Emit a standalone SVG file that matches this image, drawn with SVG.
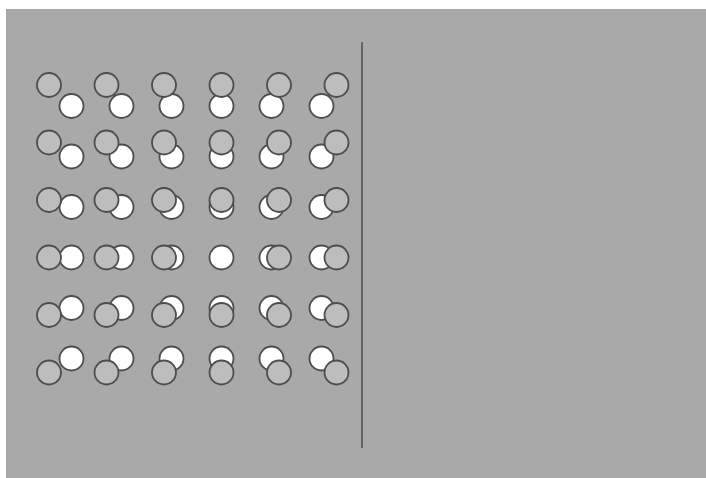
<svg xmlns="http://www.w3.org/2000/svg" width="706" height="478" viewBox="0 0 706 478">
<style>
.bg{fill:#a9a9a9}
.g{fill:#bdbdbd;stroke:#4d4d4d;stroke-width:1.8}
.w{fill:#ffffff;stroke:#4d4d4d;stroke-width:1.8}
.ln{stroke:#555555;stroke-width:1.6;fill:none}
</style>
<rect x="0" y="0" width="706" height="478" fill="#ffffff"/>
<rect class="bg" x="6" y="9" width="700" height="469"/>
<g id="connectors">
<line class="ln" x1="362" y1="42" x2="362" y2="448"/>
</g>
<g id="p11"><circle class="w" cx="71.5" cy="106" r="12"/><circle class="g" cx="49" cy="85" r="12"/></g>
<g id="p12"><circle class="w" cx="121.5" cy="106" r="12"/><circle class="g" cx="106.5" cy="85" r="12"/></g>
<g id="p13"><circle class="w" cx="171.5" cy="106" r="12"/><circle class="g" cx="164" cy="85" r="12"/></g>
<g id="p14"><circle class="w" cx="221.5" cy="106" r="12"/><circle class="g" cx="221.5" cy="85" r="12"/></g>
<g id="p15"><circle class="w" cx="271.5" cy="106" r="12"/><circle class="g" cx="279" cy="85" r="12"/></g>
<g id="p16"><circle class="w" cx="321.5" cy="106" r="12"/><circle class="g" cx="336.5" cy="85" r="12"/></g>

<g id="p21"><circle class="w" cx="71.5" cy="156.5" r="12"/><circle class="g" cx="49" cy="142.5" r="12"/></g>
<g id="p22"><circle class="w" cx="121.5" cy="156.5" r="12"/><circle class="g" cx="106.5" cy="142.5" r="12"/></g>
<g id="p23"><circle class="w" cx="171.5" cy="156.5" r="12"/><circle class="g" cx="164" cy="142.5" r="12"/></g>
<g id="p24"><circle class="w" cx="221.5" cy="156.5" r="12"/><circle class="g" cx="221.5" cy="142.5" r="12"/></g>
<g id="p25"><circle class="w" cx="271.5" cy="156.5" r="12"/><circle class="g" cx="279" cy="142.5" r="12"/></g>
<g id="p26"><circle class="w" cx="321.5" cy="156.5" r="12"/><circle class="g" cx="336.5" cy="142.5" r="12"/></g>

<g id="p31"><circle class="w" cx="71.5" cy="207" r="12"/><circle class="g" cx="49" cy="200" r="12"/></g>
<g id="p32"><circle class="w" cx="121.5" cy="207" r="12"/><circle class="g" cx="106.5" cy="200" r="12"/></g>
<g id="p33"><circle class="w" cx="171.5" cy="207" r="12"/><circle class="g" cx="164" cy="200" r="12"/></g>
<g id="p34"><circle class="w" cx="221.5" cy="207" r="12"/><circle class="g" cx="221.5" cy="200" r="12"/></g>
<g id="p35"><circle class="w" cx="271.5" cy="207" r="12"/><circle class="g" cx="279" cy="200" r="12"/></g>
<g id="p36"><circle class="w" cx="321.5" cy="207" r="12"/><circle class="g" cx="336.5" cy="200" r="12"/></g>

<g id="p41"><circle class="w" cx="71.5" cy="257.5" r="12"/><circle class="g" cx="49" cy="257.5" r="12"/></g>
<g id="p42"><circle class="w" cx="121.5" cy="257.5" r="12"/><circle class="g" cx="106.5" cy="257.5" r="12"/></g>
<g id="p43"><circle class="w" cx="171.5" cy="257.5" r="12"/><circle class="g" cx="164" cy="257.5" r="12"/></g>
<g id="p44"><circle class="w" cx="221.5" cy="257.5" r="12"/></g>
<g id="p45"><circle class="w" cx="271.5" cy="257.5" r="12"/><circle class="g" cx="279" cy="257.5" r="12"/></g>
<g id="p46"><circle class="w" cx="321.5" cy="257.5" r="12"/><circle class="g" cx="336.5" cy="257.5" r="12"/></g>

<g id="p51"><circle class="w" cx="71.5" cy="308" r="12"/><circle class="g" cx="49" cy="315" r="12"/></g>
<g id="p52"><circle class="w" cx="121.5" cy="308" r="12"/><circle class="g" cx="106.5" cy="315" r="12"/></g>
<g id="p53"><circle class="w" cx="171.5" cy="308" r="12"/><circle class="g" cx="164" cy="315" r="12"/></g>
<g id="p54"><circle class="w" cx="221.5" cy="308" r="12"/><circle class="g" cx="221.5" cy="315" r="12"/></g>
<g id="p55"><circle class="w" cx="271.5" cy="308" r="12"/><circle class="g" cx="279" cy="315" r="12"/></g>
<g id="p56"><circle class="w" cx="321.5" cy="308" r="12"/><circle class="g" cx="336.5" cy="315" r="12"/></g>

<g id="p61"><circle class="w" cx="71.5" cy="358.5" r="12"/><circle class="g" cx="49" cy="372.5" r="12"/></g>
<g id="p62"><circle class="w" cx="121.5" cy="358.5" r="12"/><circle class="g" cx="106.5" cy="372.5" r="12"/></g>
<g id="p63"><circle class="w" cx="171.5" cy="358.5" r="12"/><circle class="g" cx="164" cy="372.5" r="12"/></g>
<g id="p64"><circle class="w" cx="221.5" cy="358.5" r="12"/><circle class="g" cx="221.5" cy="372.5" r="12"/></g>
<g id="p65"><circle class="w" cx="271.5" cy="358.5" r="12"/><circle class="g" cx="279" cy="372.5" r="12"/></g>
<g id="p66"><circle class="w" cx="321.5" cy="358.5" r="12"/><circle class="g" cx="336.5" cy="372.5" r="12"/></g>
</svg>
